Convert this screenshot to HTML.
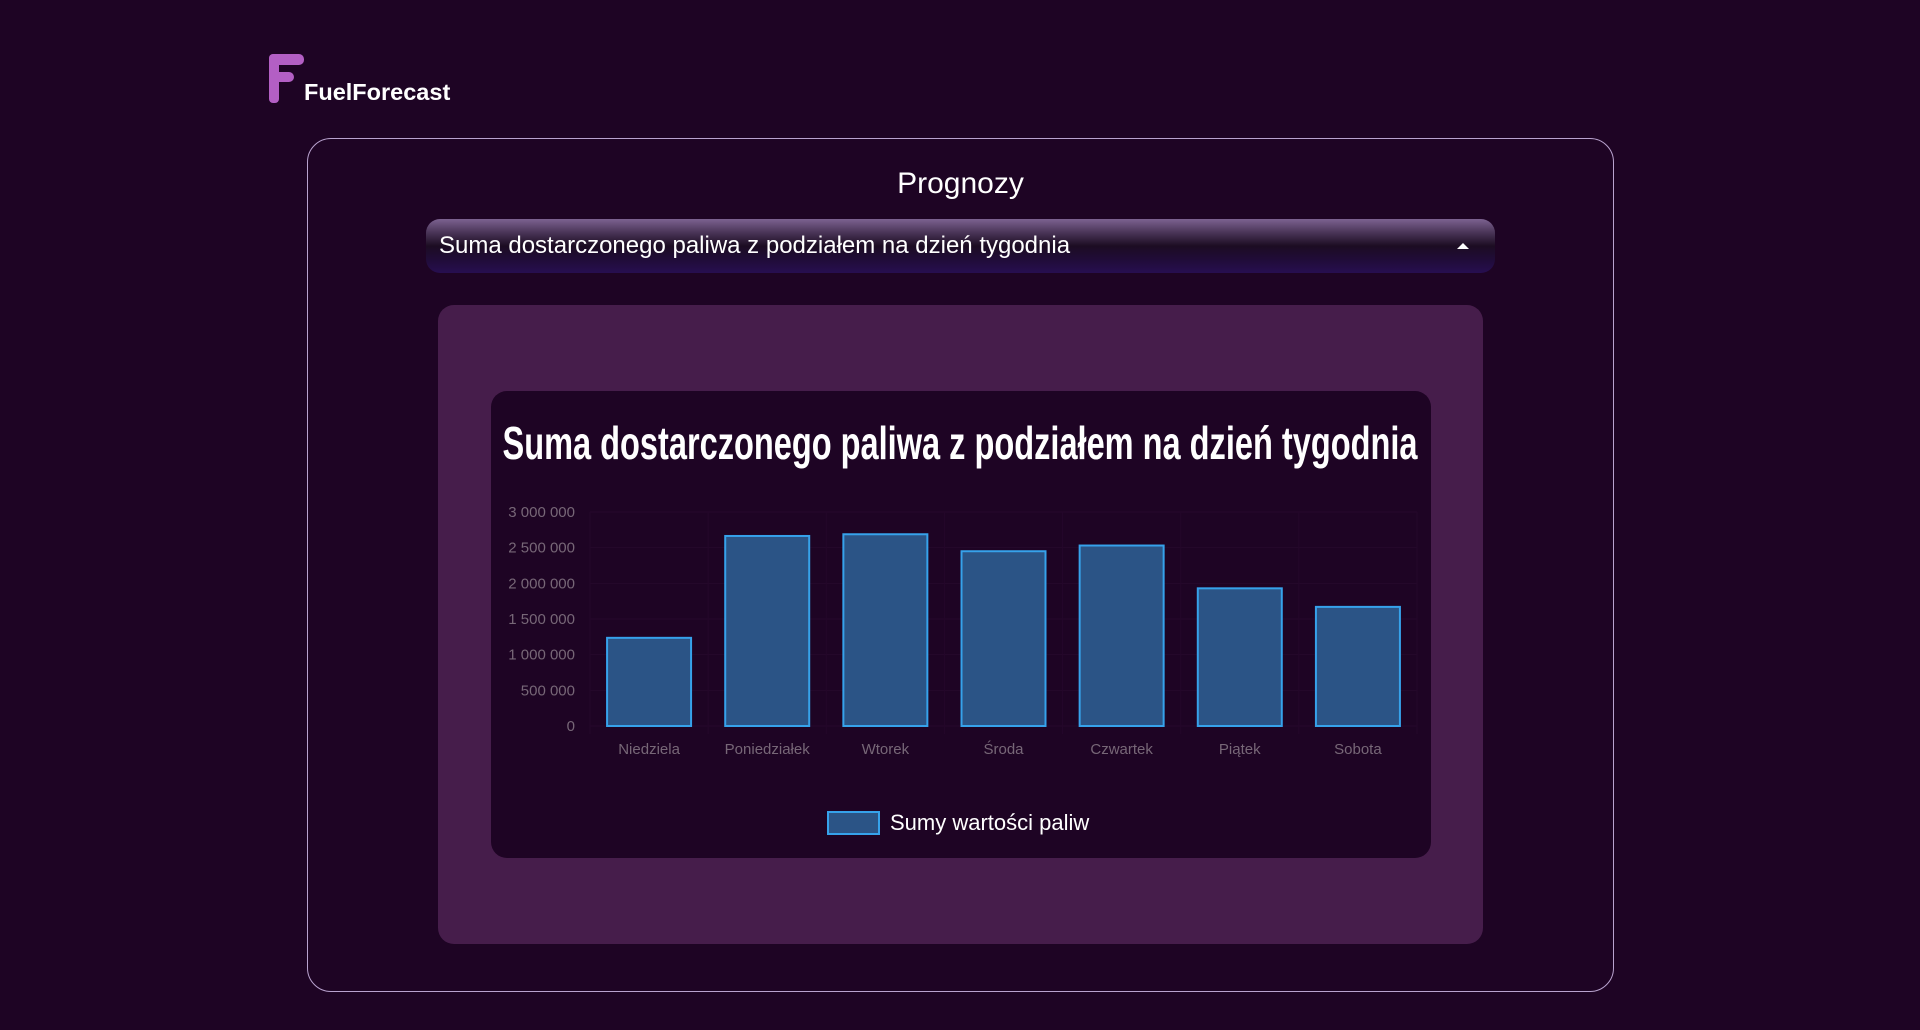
<!DOCTYPE html>
<html><head><meta charset="utf-8"><style>
html,body{margin:0;padding:0;width:1920px;height:1030px;background:#1e0424;overflow:hidden;font-family:"Liberation Sans",sans-serif;}
.abs{position:absolute;}
</style></head><body>
<div class="abs" style="left:269px;top:54px;width:180px;height:52px;">
  <svg width="40" height="52" style="position:absolute;left:0;top:0">
    <rect x="0" y="0" width="10" height="49" rx="4" fill="#b35fc4"/>
    <rect x="0" y="0" width="35" height="11" rx="5" fill="#b35fc4"/>
    <rect x="0" y="18" width="25" height="10" rx="5" fill="#b35fc4"/>
  </svg>
  <div style="position:absolute;left:35px;top:25px;color:#fff;font-weight:bold;font-size:23.5px;">FuelForecast</div>
</div>
<div class="abs" style="left:307px;top:138px;width:1305px;height:852px;border:1px solid #b9a3cf;border-radius:24px;"></div>
<div class="abs" style="left:307px;top:167px;width:1307px;text-align:center;color:#fff;font-size:30px;">Prognozy</div>
<div class="abs" style="left:426px;top:219px;width:1069px;height:54px;border-radius:14px;background:linear-gradient(#7c6290 0%,#4a3558 25%,#1c0c22 50%,#200c38 75%,#270e50 100%);">
  <div style="position:absolute;left:13px;top:13px;color:#fff;font-size:24px;">Suma dostarczonego paliwa z podziałem na dzień tygodnia</div>
  <div style="position:absolute;right:26px;top:24px;width:0;height:0;border-left:6px solid transparent;border-right:6px solid transparent;border-bottom:6px solid #fff;"></div>
</div>
<div class="abs" style="left:438px;top:305px;width:1045px;height:639px;background:#461d4b;border-radius:16px;"></div>
<div class="abs" style="left:491px;top:391px;width:940px;height:467px;background:#1e0424;border-radius:16px;"></div>
<svg class="abs" id="chart" width="1920" height="1030" style="left:0;top:0">
  <text x="960" y="459" text-anchor="middle" textLength="915" lengthAdjust="spacingAndGlyphs" fill="#fff" font-family="Liberation Sans Narrow, Liberation Sans, sans-serif" font-weight="bold" font-size="46">Suma dostarczonego paliwa z podziałem na dzień tygodnia</text>
  <g id="grid"></g><g id="bars"></g><g id="labels"></g>
  <rect x="828" y="812" width="51" height="22" fill="#2b5486" stroke="#36a2eb" stroke-width="2"/>
  <text x="890" y="830" fill="#fff" font-size="22" font-family="Liberation Sans, sans-serif">Sumy wartości paliw</text>
</svg>
<script>
const categories=["Niedziela","Poniedziałek","Wtorek","Środa","Czwartek","Piątek","Sobota"];
const values=[1236000,2664000,2688000,2450000,2530000,1930000,1670000];
const yTicks=[0,500000,1000000,1500000,2000000,2500000,3000000];
const yTickLabels=["0","500 000","1 000 000","1 500 000","2 000 000","2 500 000","3 000 000"];
const L=590,R=1417,T=512,B=726,yMax=3000000;
const ns="http://www.w3.org/2000/svg";
const cw=(R-L)/categories.length;
function y(v){return B-(v/yMax)*(B-T);}
function x(i){return L+i*cw;}
const grid=document.getElementById('grid'),bars=document.getElementById('bars'),labels=document.getElementById('labels');
function mk(tag,attrs,parent){const e=document.createElementNS(ns,tag);for(const k in attrs)e.setAttribute(k,attrs[k]);parent.appendChild(e);return e;}
yTicks.forEach((t,i)=>{
  const g=mk('line',{x1:L,x2:R,y1:y(t),y2:y(t),stroke:'#26082b','stroke-width':1},grid);
  
  
  const tx=mk('text',{x:L-15,y:y(t)+5,'text-anchor':'end',fill:'#776777','font-size':15,'font-family':'Liberation Sans, sans-serif'},labels);
  tx.textContent=yTickLabels[i];
  
  
});
for(let i=0;i<=categories.length;i++){
  const g=mk('line',{x1:x(i),x2:x(i),y1:T,y2:B+8,stroke:'#24072a','stroke-width':1},grid);
  
  
}
categories.forEach((c,i)=>{
  const bw=84,bx=x(i)+(cw-bw)/2;
  const r=mk('rect',{x:bx,y:y(values[i]),width:bw,height:B-y(values[i]),fill:'#2b5486',stroke:'#36a2eb','stroke-width':2},bars);
  
  
  const tx=mk('text',{x:x(i)+cw/2,y:754,'text-anchor':'middle',fill:'#776777','font-size':15,'font-family':'Liberation Sans, sans-serif'},labels);
  tx.textContent=c;
  
  
});
</script>
</body></html>
